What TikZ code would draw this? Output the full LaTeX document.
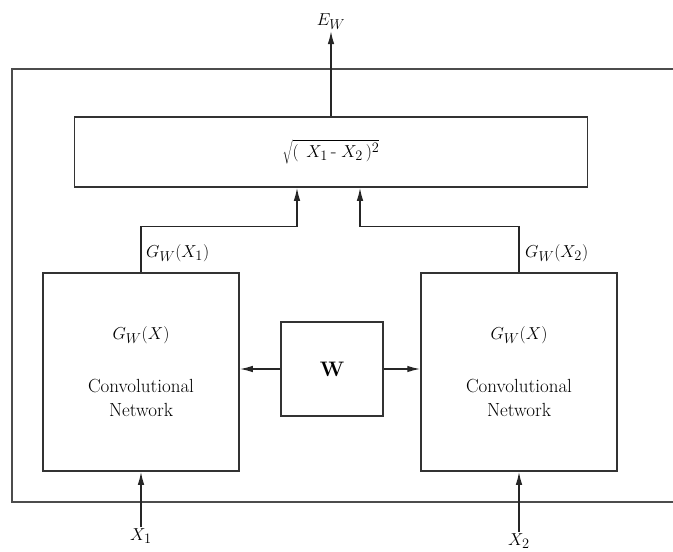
\documentclass[tikz,border=0pt]{standalone}
\usepackage{tikz}
\usetikzlibrary{positioning, arrows.meta, calc}
\tikzset{
  arr/.style={-{Latex[length=13pt,width=6.5pt]}, line width=1.4pt, draw=black!85},
  blk/.style={draw=black!80, line width=1.5pt, align=center, inner sep=0pt, fill=white},
  lab/.style={inner sep=1pt, font=\fontsize{19}{22}\selectfont}
}

\begin{document}
\begin{tikzpicture}[x=1pt, y=-1pt, font=\fontsize{19}{24}\selectfont]
\useasboundingbox (0,0) rectangle (673,552);
% outer frame, open on the right
\draw[draw=black!70, line width=1.8pt] (673,69) -| (12,502) -- (673,502);
\node[blk, minimum width=513pt, minimum height=70pt] (dist) at (331,152)
  {$\sqrt{(\;\,X_1\,\mbox{-}\;X_2\,)^2}$};
\node[blk, minimum width=196pt, minimum height=198pt] (lnet) at (141,372)
  {$G_W(X)$\\[29pt]Convolutional\\Network};
\node[blk, minimum width=196pt, minimum height=198pt] (rnet) at (519,372)
  {$G_W(X)$\\[29pt]Convolutional\\Network};
\node[blk, minimum width=102pt, minimum height=94pt] (w) at (332,369)
  {\fontsize{21}{22}\selectfont\textbf{W}};
\node[lab] (ew) at (331,22) {$E_W$};
\node[lab] (x1) at (141,536) {$X_1$};
\node[lab] (x2) at (519,541) {$X_2$};
\draw[arr] (dist.north) -- (ew.south);
\draw[arr] (x1.north) -- (lnet.south);
\draw[arr] (x2.north) -- (rnet.south);
\draw[arr] (w.west) -- (lnet.east |- w.west);
\draw[arr] (w.east) -- (rnet.west |- w.east);
\draw[arr] (lnet.north) |- ++(0,-46) -| ([xshift=-34pt]dist.south);
\draw[arr] (rnet.north) |- ++(0,-46) -| ([xshift=29pt]dist.south);
\node[lab, anchor=west] (g1) at (145,253) {$G_W(X_1)$};
\node[lab, anchor=west] (g2) at (524,253) {$G_W(X_2)$};
\end{tikzpicture}
\end{document}
